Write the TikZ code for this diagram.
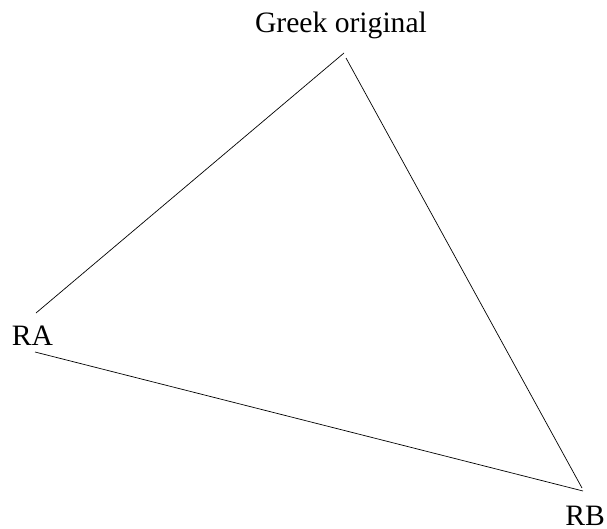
\documentclass[tikz,border=0pt]{standalone}
\usepackage{fontspec}
\setmainfont{Liberation Serif}
\begin{document}
\begin{tikzpicture}[x=1pt,y=-1pt,
  lbl/.style={anchor=base,inner sep=0pt,font=\fontsize{29.6}{34}\selectfont},
  edge/.style={draw=black,line width=0.7pt}]
\useasboundingbox (0,0) rectangle (607,529);
\node[lbl] (g) at (341,33) {Greek original};
\node[lbl] (ra) at (32.5,345) {RA};
\node[lbl] (rb) at (585,525.5) {RB};
\coordinate (g1) at (344,53);
\coordinate (g2) at (346,58);
\coordinate (a1) at (36,313);
\coordinate (a2) at (35,352);
\coordinate (b1) at (582,488);
\coordinate (b2) at (583,491);
\draw[edge] (g1) -- (a1);
\draw[edge] (g2) -- (b1);
\draw[edge] (a2) -- (b2);
\end{tikzpicture}
\end{document}
